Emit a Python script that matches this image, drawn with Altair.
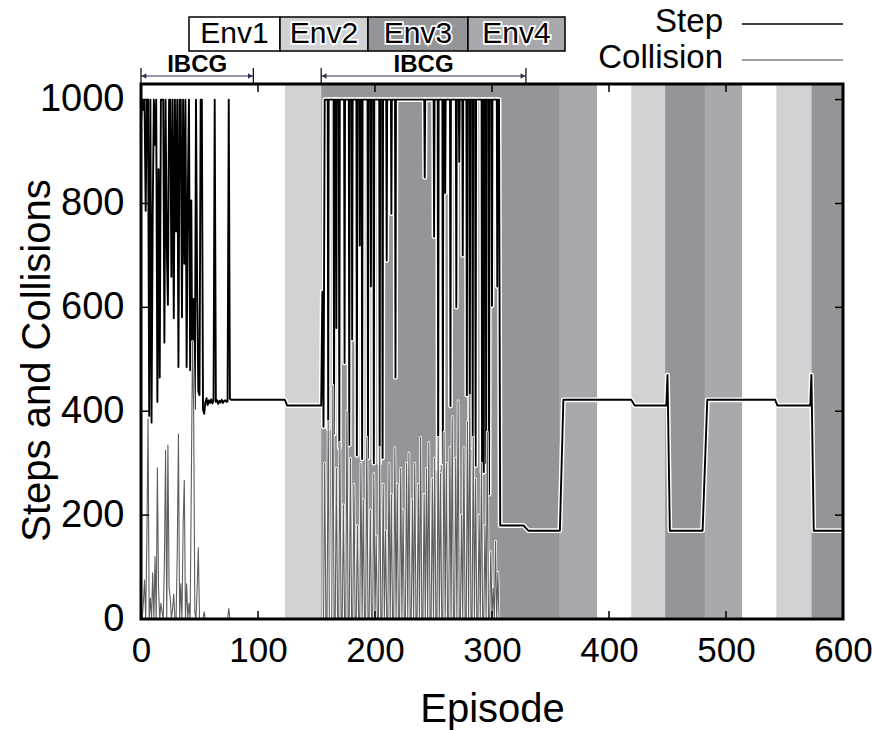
import altair as alt
import pandas as pd

FONT = "Liberation Sans"

# ---------------- axis ticks ----------------
x_ticks = [0, 100, 200, 300, 400, 500, 600]
y_ticks = [0, 200, 400, 600, 800, 1000]

# ---------------- environment bands ----------------
env_names = ["Env1", "Env2", "Env3", "Env4"]
env_colors = ["#ffffff", "#d1d2d4", "#939598", "#a7a9ac"]
band_start = [0, 123, 154, 358, 390, 419, 448, 482, 514, 543, 573]
band_end = [123, 154, 358, 390, 419, 448, 482, 514, 543, 573, 600]
band_env = ["Env1", "Env2", "Env3", "Env4", "Env1", "Env2", "Env3", "Env4", "Env1", "Env2", "Env3"]

# ---------------- IBCG periods ----------------
ibcg_start = [0, 154]
ibcg_end = [96, 329]

# ---------------- Step series ----------------
# episodes 0..77, one value per episode
step_a = [960, 1000, 980, 1000, 786, 1000, 1000, 391, 1000, 378,
          779, 1000, 913, 1000, 418, 866, 465, 1000, 1000, 1000,
          532, 1000, 719, 605, 1000, 1000, 659, 1000, 579, 1000,
          746, 1000, 485, 1000, 1000, 581, 1000, 684, 1000, 485,
          814, 1000, 479, 806, 393, 616, 405, 1000, 632, 438,
          431, 1000, 1000, 403, 395, 417, 425, 412, 421, 416,
          423, 415, 420, 1000, 418, 421, 414, 420, 417, 422,
          416, 420, 421, 418, 419, 1000, 424, 422]
# Env1 -> Env2 level change, then the start of the Env3 learning phase
step_mid_ep = [123, 125, 154, 155, 156, 157]
step_mid_val = [422, 411, 411, 630, 370, 1000]
# Env3 learning phase: the line stays at 1000 and drops in narrow spikes
dip_ep = [160.0, 165.0, 167.0, 169.5, 174.0, 178.0, 180.5, 184.5, 187.0, 189.0,
          194.0, 196.5, 199.0, 204.0, 206.5, 210.0, 214.0, 217.5, 242.5, 250.5,
          254.0, 258.0, 260.0, 264.5, 269.5, 272.0, 275.0, 278.5, 281.0, 283.5,
          286.0, 291.5, 293.0, 295.0, 297.5, 300.0, 304.5]
dip_val = [366, 356, 560, 329, 493, 335, 538, 315, 719, 308,
           310, 640, 300, 300, 310, 690, 780, 465, 850, 736,
           288, 300, 820, 410, 600, 880, 700, 431, 337, 330,
           295, 281, 283, 300, 240, 603, 640]
step_tail_ep = [306, 307, 327, 331, 358, 361, 419, 422, 449, 450, 452,
                480, 484, 542, 544, 572, 573, 575, 600]
step_tail_val = [1000, 180, 180, 170, 170, 422, 422, 411, 411, 470, 170,
                 170, 422, 422, 411, 411, 470, 170, 170]

# ---------------- Collision series ----------------
# episodes 0..76
coll_a = [20, 0, 30, 75, 0, 150, 386, 0, 40, 0,
          89, 0, 120, 0, 291, 60, 0, 30, 14, 0,
          110, 325, 0, 335, 60, 41, 0, 20, 48, 0,
          0, 130, 356, 0, 68, 0, 180, 267, 0, 68,
          0, 30, 0, 260, 534, 404, 14, 0, 60, 137,
          0, 0, 0, 0, 14, 0, 0, 0, 0, 0,
          0, 0, 0, 0, 0, 0, 0, 0, 0, 0,
          0, 0, 0, 0, 0, 20, 0]
coll_mid_ep = [100, 154]
coll_mid_val = [0, 0]
# episodes 155..306
coll_c = [0, 0, 300, 0, 0, 380, 0, 0, 0, 450,
          0, 0, 290, 0, 0, 340, 0, 0, 220, 0,
          0, 400, 0, 0, 310, 0, 0, 260, 0, 0,
          180, 0, 0, 300, 0, 230, 0, 0, 350, 0,
          0, 210, 0, 0, 280, 0, 160, 0, 0, 330,
          0, 0, 260, 0, 170, 0, 0, 300, 0, 240,
          0, 0, 330, 0, 260, 0, 0, 290, 0, 210,
          0, 0, 300, 0, 320, 0, 0, 230, 0, 300,
          0, 0, 260, 0, 350, 0, 0, 240, 0, 290,
          0, 340, 0, 0, 270, 0, 310, 0, 0, 350,
          0, 280, 0, 0, 360, 0, 300, 0, 0, 330,
          0, 390, 0, 0, 310, 0, 420, 0, 0, 200,
          0, 330, 0, 0, 380, 0, 430, 0, 0, 350,
          0, 270, 0, 0, 200, 0, 300, 0, 0, 180,
          0, 360, 0, 0, 130, 0, 60, 0, 150, 0,
          90, 0]
coll_tail_ep = [307, 600]
coll_tail_val = [0, 0]

# ---------------- build tables ----------------
HALF = 0.4  # half width of a spike, in episodes
dip_pts_ep, dip_pts_val = [], []
for c, v in zip(dip_ep, dip_val):
    dip_pts_ep += [c - HALF, c, c + HALF]
    dip_pts_val += [1000, v, 1000]

step_ep = list(range(len(step_a))) + step_mid_ep + dip_pts_ep + step_tail_ep
step_val = step_a + step_mid_val + dip_pts_val + step_tail_val
coll_ep = list(range(len(coll_a))) + coll_mid_ep + list(range(155, 155 + len(coll_c))) + coll_tail_ep
coll_val = coll_a + coll_mid_val + coll_c + coll_tail_val

step_df = pd.DataFrame({"ep": step_ep, "val": step_val}).sort_values("ep")
coll_df = pd.DataFrame({"ep": coll_ep, "val": coll_val})
band_df = pd.DataFrame({"start": band_start, "end": band_end, "env": band_env})
xt_df = pd.DataFrame({"t": x_ticks})
yt_df = pd.DataFrame({"t": y_ticks})
ib_df = pd.DataFrame({"s": ibcg_start, "e": ibcg_end})
ib_df["mid"] = (ib_df["s"] + ib_df["e"]) / 2
ib_df["label"] = "IBCG"
one = pd.DataFrame({"a": [0]})

W, H = 702, 535
LEFT, TOP = 141, 84

xs = alt.Scale(domain=[0, 600], nice=False, zero=False)
ys = alt.Scale(domain=[0, 1030], nice=False, zero=True)
xax = alt.Axis(values=x_ticks, ticks=False, domain=False, grid=False, format="d",
               labelFont=FONT, labelFontSize=35, labelColor="black", labelPadding=14,
               labelFlush=False, labelOverlap=False,
               titleFont=FONT, titleFontSize=40, titleFontWeight="normal", titleColor="black",
               titleBaseline="alphabetic", titleY=102)
yax = alt.Axis(values=y_ticks, ticks=False, domain=False, grid=False, format="d",
               labelFont=FONT, labelFontSize=38, labelColor="black", labelPadding=17,
               labelFlush=False, labelOverlap=False,
               titleFont=FONT, titleFontSize=40, titleFontWeight="normal", titleColor="black",
               titleBaseline="alphabetic", titleAngle=270, titleX=-92, titleY=276)


def X(f):
    return alt.X(f"{f}:Q", scale=xs, axis=xax, title="Episode")


def Y(f):
    return alt.Y(f"{f}:Q", scale=ys, axis=yax, title="Steps and Collisions")


bands = alt.Chart(band_df).mark_rect().encode(
    x=X("start"), x2="end",
    color=alt.Color("env:N", scale=alt.Scale(domain=env_names, range=env_colors), legend=None),
)

line_kw = dict(strokeJoin="round", strokeCap="round", interpolate="linear")
step_halo = alt.Chart(step_df).mark_line(color="white", strokeWidth=4.8, **line_kw).encode(
    x=X("ep"), y=Y("val"), order="ep:Q")
step_line = alt.Chart(step_df).mark_line(color="black", strokeWidth=1.9, **line_kw).encode(
    x=X("ep"), y=Y("val"), order="ep:Q")
coll_halo = alt.Chart(coll_df).mark_line(color="white", strokeWidth=2.6, **line_kw).encode(x=X("ep"), y=Y("val"))
coll_line = alt.Chart(coll_df).mark_line(color="#5e5e5e", strokeWidth=1.1, **line_kw).encode(x=X("ep"), y=Y("val"))

tick_kw = dict(color="black", strokeWidth=1.5)
tb = alt.Chart(xt_df).mark_rule(**tick_kw).encode(x=X("t"), y=alt.value(H), y2=alt.value(H - 8))
tt = alt.Chart(xt_df).mark_rule(**tick_kw).encode(x=X("t"), y=alt.value(0), y2=alt.value(8))
tl = alt.Chart(yt_df).mark_rule(**tick_kw).encode(y=Y("t"), x=alt.value(0), x2=alt.value(8))
tr = alt.Chart(yt_df).mark_rule(**tick_kw).encode(y=Y("t"), x=alt.value(W), x2=alt.value(W - 8))

frame = alt.Chart(one).mark_rect(fillOpacity=0, stroke="black", strokeWidth=3).encode(
    x=alt.value(0), x2=alt.value(W), y=alt.value(0), y2=alt.value(H))

# ---------------- IBCG annotations ----------------
ARROW = "#2f2f55"
ib_line = alt.Chart(ib_df).mark_rule(color=ARROW, strokeWidth=1.2).encode(x=X("s"), x2="e", y=alt.value(-8))
ib_bar_s = alt.Chart(ib_df).mark_rule(color="black", strokeWidth=1.2).encode(x=X("s"), y=alt.value(-16), y2=alt.value(0))
ib_bar_e = alt.Chart(ib_df).mark_rule(color="black", strokeWidth=1.2).encode(x=X("e"), y=alt.value(-16), y2=alt.value(0))
ib_head_s = alt.Chart(ib_df).mark_point(shape="triangle-left", filled=True, size=28, color=ARROW, opacity=1, xOffset=3).encode(x=X("s"), y=alt.value(-8))
ib_head_e = alt.Chart(ib_df).mark_point(shape="triangle-right", filled=True, size=28, color=ARROW, opacity=1, xOffset=-3).encode(x=X("e"), y=alt.value(-8))
ib_text = alt.Chart(ib_df).mark_text(font=FONT, fontSize=24, fontWeight="bold", color="black", baseline="alphabetic").encode(
    x=X("mid"), y=alt.value(-12), text="label:N")

# ---------------- Env legend (top) ----------------
box_edges = [48, 139, 227, 327, 424]
env_layers = []
for i, (nm, col) in enumerate(zip(env_names, env_colors)):
    x0, x1 = box_edges[i], box_edges[i + 1]
    env_layers.append(alt.Chart(one).mark_rect(fill=col, stroke="black", strokeWidth=1.5).encode(
        x=alt.value(x0), x2=alt.value(x1), y=alt.value(-67), y2=alt.value(-33)))
for i, nm in enumerate(env_names):
    xc = (box_edges[i] + box_edges[i + 1]) / 2
    env_layers.append(alt.Chart(one).mark_text(text=nm, font=FONT, fontSize=30, color="white", stroke="white",
                                               strokeWidth=3.5, baseline="middle").encode(
        x=alt.value(xc), y=alt.value(-50)))
    env_layers.append(alt.Chart(one).mark_text(text=nm, font=FONT, fontSize=30, color="black",
                                               baseline="middle").encode(
        x=alt.value(xc), y=alt.value(-50)))

# ---------------- Series legend (top right) ----------------
leg = [
    alt.Chart(one).mark_text(text="Step", font=FONT, fontSize=33, color="black", align="right",
                             baseline="alphabetic").encode(x=alt.value(582), y=alt.value(-52)),
    alt.Chart(one).mark_text(text="Collision", font=FONT, fontSize=33, color="black", align="right",
                             baseline="alphabetic").encode(x=alt.value(582), y=alt.value(-16)),
    alt.Chart(one).mark_rule(color="black", strokeWidth=1.5).encode(
        x=alt.value(601), x2=alt.value(702), y=alt.value(-60)),
    alt.Chart(one).mark_rule(color="#808080", strokeWidth=1.5).encode(
        x=alt.value(601), x2=alt.value(702), y=alt.value(-24)),
]

chart = alt.layer(
    bands, step_halo, step_line, coll_halo, coll_line,
    tb, tt, tl, tr, frame,
    ib_line, ib_bar_s, ib_bar_e, ib_head_s, ib_head_e, ib_text,
    *env_layers, *leg,
).properties(
    width=W, height=H,
    autosize=alt.AutoSizeParams(type="none"),
    padding={"left": LEFT, "top": TOP, "right": 872 - LEFT - W, "bottom": 730 - TOP - H},
    background="white",
).configure_view(stroke=None)

chart.save("out.html", embed_options={"renderer": "svg", "actions": False})
